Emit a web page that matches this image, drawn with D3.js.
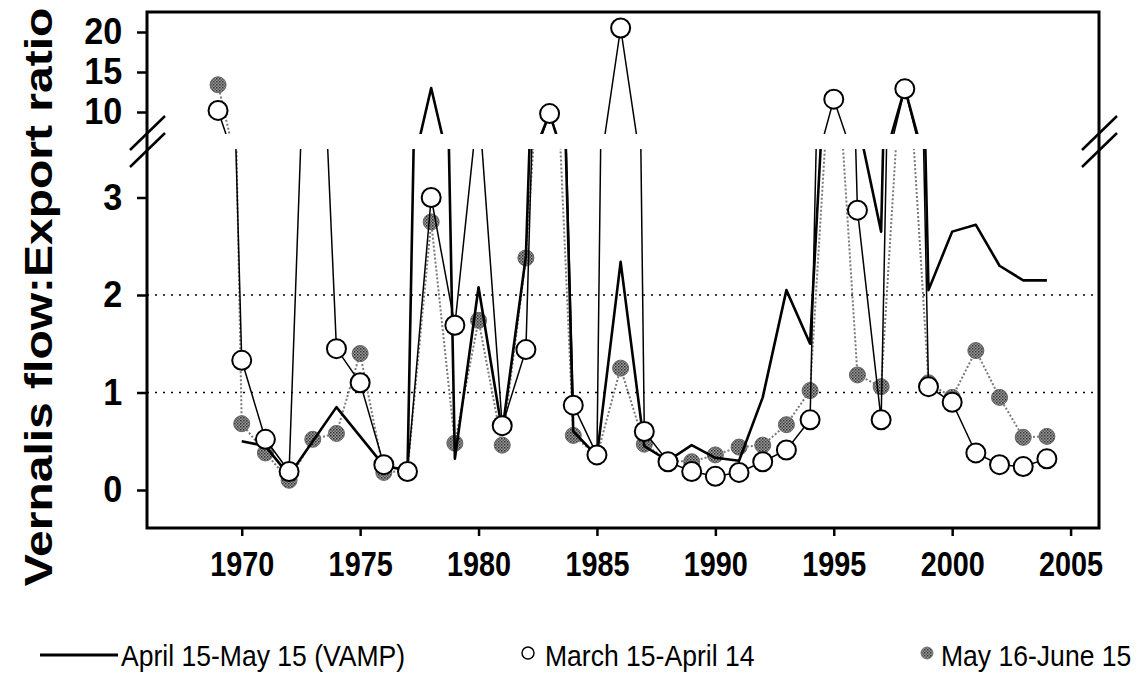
<!DOCTYPE html>
<html>
<head>
<meta charset="utf-8">
<script src="https://cdn.jsdelivr.net/npm/d3@7"></script>
<style>
  body { margin: 0; background: #fff; }
  svg { display: block; font-family: "Liberation Sans", Arial, sans-serif; }
</style>
</head>
<body>
<div id="chart"></div>
<script>
// Data (1969-2004); null = no value
const years = d3.range(1969, 2005);
const vampRatio = [null, 0.50, 0.45, 0.15, 0.50, 0.85, 0.55, 0.25, 0.20, 13.0,
  0.32, 2.08, 0.60, 2.40, 9.8, 0.60, 0.35, 2.34, 0.45, 0.30,
  0.46, 0.33, 0.30, 0.95, 2.05, 1.50, 6.0, 3.8, 2.65, 13.0,
  2.05, 2.65, 2.72, 2.30, 2.15, 2.15];
const marchRatio = [10.2, 1.33, 0.52, 0.19, 7.0, 1.45, 1.10, 0.26, 0.19, 3.00,
  1.69, 4.0, 0.66, 1.44, 9.8, 0.87, 0.36, 20.5, 0.60, 0.29,
  0.19, 0.14, 0.18, 0.29, 0.41, 0.72, 11.6, 2.87, 0.72, 12.9,
  1.06, 0.90, 0.38, 0.26, 0.24, 0.32];
const mayRatio = [13.4, 0.68, 0.38, 0.10, 0.52, 0.58, 1.40, 0.18, 0.20, 2.75,
  0.48, 1.74, 0.46, 2.38, 6.0, 0.56, 0.35, 1.25, 0.47, 0.30,
  0.29, 0.36, 0.44, 0.46, 0.67, 1.02, 5.0, 1.18, 1.06, 5.0,
  1.10, 0.95, 1.43, 0.95, 0.54, 0.55];

const lowTicks = [0, 1, 2, 3];
const highTicks = [10, 15, 20];
const yearTicks = [1970, 1975, 1980, 1985, 1990, 1995, 2000, 2005];
const gridValues = [1, 2];
const legendLabels = ["April 15-May 15 (VAMP)", "March 15-April 14", "May 16-June 15"];

const W = 1140, H = 676;
const plot = { left: 147, right: 1099, top: 12, bottom: 528 };
const breakTop = 134, breakBottom = 149;

const svg = d3.select("#chart").append("svg")
  .attr("width", W).attr("height", H);

const x = d3.scaleLinear().domain([1966, 2006.2]).range([plot.left, plot.right]);
const yLow = d3.scaleLinear().domain([0, 3.5]).range([490, 148.75]);
const yHigh = d3.scaleLinear().domain([7.25, 22.5]).range([breakTop, plot.top]);

const series = (vals) => years.map((yr, i) => ({ year: yr, v: vals[i] }));
const vamp = series(vampRatio), march = series(marchRatio), may = series(mayRatio);

const defs = svg.append("defs");
defs.append("clipPath").attr("id", "clip-low").append("rect")
  .attr("x", plot.left).attr("y", breakBottom)
  .attr("width", plot.right - plot.left).attr("height", plot.bottom - breakBottom);
defs.append("clipPath").attr("id", "clip-high").append("rect")
  .attr("x", plot.left).attr("y", plot.top)
  .attr("width", plot.right - plot.left).attr("height", breakTop - plot.top);

// speckled grey fill, like the halftone dots of the scan
const pat = defs.append("pattern").attr("id", "speckle")
  .attr("width", 3).attr("height", 3).attr("patternUnits", "userSpaceOnUse");
pat.append("rect").attr("width", 3).attr("height", 3).attr("fill", "#9a9a9a");
pat.append("rect").attr("width", 1.5).attr("height", 1.5).attr("fill", "#333");
pat.append("rect").attr("x", 1.5).attr("y", 1.5).attr("width", 1.5).attr("height", 1.5).attr("fill", "#555");

// dotted reference lines
svg.append("g").selectAll("line").data(gridValues).join("line")
  .attr("x1", plot.left).attr("x2", plot.right)
  .attr("y1", d => yLow(d)).attr("y2", d => yLow(d))
  .attr("stroke", "#000").attr("stroke-width", 1.6)
  .attr("stroke-dasharray", "2,6");

function drawPanel(y, clipId, inRange) {
  const g = svg.append("g").attr("clip-path", `url(#${clipId})`);
  const line = d3.line().defined(d => d.v != null)
    .x(d => x(d.year)).y(d => y(d.v));

  g.append("path").datum(may).attr("d", line)
    .attr("fill", "none").attr("stroke", "#7a7a7a")
    .attr("stroke-width", 2).attr("stroke-dasharray", "2,2");
  g.append("g").selectAll("circle").data(may.filter(d => inRange(d.v))).join("circle")
    .attr("cx", d => x(d.year)).attr("cy", d => y(d.v)).attr("r", 8)
    .attr("fill", "url(#speckle)").attr("stroke", "#666").attr("stroke-width", 1);

  g.append("path").datum(vamp).attr("d", line)
    .attr("fill", "none").attr("stroke", "#000").attr("stroke-width", 2.6)
    .attr("stroke-linejoin", "round");

  g.append("path").datum(march).attr("d", line)
    .attr("fill", "none").attr("stroke", "#000").attr("stroke-width", 1.5);
  g.append("g").selectAll("circle").data(march.filter(d => inRange(d.v))).join("circle")
    .attr("cx", d => x(d.year)).attr("cy", d => y(d.v)).attr("r", 9.5)
    .attr("fill", "#fff").attr("stroke", "#000").attr("stroke-width", 2);
}

drawPanel(yLow, "clip-low", v => v != null && v <= 3.5);
drawPanel(yHigh, "clip-high", v => v != null && v >= 7.25);

// frame
svg.append("rect")
  .attr("x", plot.left).attr("y", plot.top)
  .attr("width", plot.right - plot.left).attr("height", plot.bottom - plot.top)
  .attr("fill", "none").attr("stroke", "#000").attr("stroke-width", 3);

// y axes (two segments)
function styleTicks(g) {
  g.select(".domain").remove();
  g.selectAll(".tick line").attr("stroke", "#000").attr("stroke-width", 2.5);
  g.selectAll(".tick text")
    .attr("font-size", 36).attr("font-weight", "bold").attr("fill", "#000")
    .attr("font-family", "'Liberation Sans', Arial, sans-serif");
}
const axLow = svg.append("g").attr("transform", `translate(${plot.left},0)`)
  .call(d3.axisLeft(yLow).tickValues(lowTicks).tickFormat(d3.format("d")).tickSize(10));
const axHigh = svg.append("g").attr("transform", `translate(${plot.left},0)`)
  .call(d3.axisLeft(yHigh).tickValues(highTicks).tickFormat(d3.format("d")).tickSize(10));
[axLow, axHigh].forEach(g => {
  styleTicks(g);
  g.selectAll(".tick text").attr("x", -26).attr("transform", "scale(0.95,1)");
});

// x axis
const axX = svg.append("g").attr("transform", `translate(0,${plot.bottom})`)
  .call(d3.axisBottom(x).tickValues(yearTicks).tickFormat(d3.format("d"))
    .tickSize(8).tickPadding(14));
styleTicks(axX);
axX.selectAll(".tick text").attr("transform", "scale(0.8,1)");

// axis break marks
const breaks = [plot.left, plot.right].flatMap(cx => [0, 17].map(off => ({ cx, off })));
svg.append("g").selectAll("line").data(breaks).join("line")
  .attr("x1", d => d.cx - 17).attr("y1", d => 150 + d.off)
  .attr("x2", d => d.cx + 18).attr("y2", d => 116 + d.off)
  .attr("stroke", "#000").attr("stroke-width", 2.5);

// y-axis title
svg.append("text")
  .attr("transform", "translate(52,297) rotate(-90) scale(1,0.8)")
  .attr("text-anchor", "middle")
  .attr("font-size", 48).attr("font-weight", "bold")
  .text("Vernalis flow:Export ratio");

// legend
const lg = svg.append("g").attr("transform", "translate(0,655)");
lg.append("line").attr("x1", 40).attr("x2", 118).attr("y1", 0).attr("y2", 0)
  .attr("stroke", "#000").attr("stroke-width", 3);
lg.append("circle").attr("cx", 528).attr("cy", -2).attr("r", 6)
  .attr("fill", "#fff").attr("stroke", "#000").attr("stroke-width", 1.5);
lg.append("circle").attr("cx", 927).attr("cy", -2).attr("r", 6)
  .attr("fill", "url(#speckle)").attr("stroke", "#777").attr("stroke-width", 1);
const legendX = [121, 545, 941];
lg.selectAll("text.lbl").data(legendLabels).join("text")
  .attr("class", "lbl")
  .attr("transform", (d, i) => `translate(${legendX[i]},11) scale(0.885,1)`)
  .attr("font-size", 30).attr("fill", "#000")
  .text(d => d);
</script>
</body>
</html>
